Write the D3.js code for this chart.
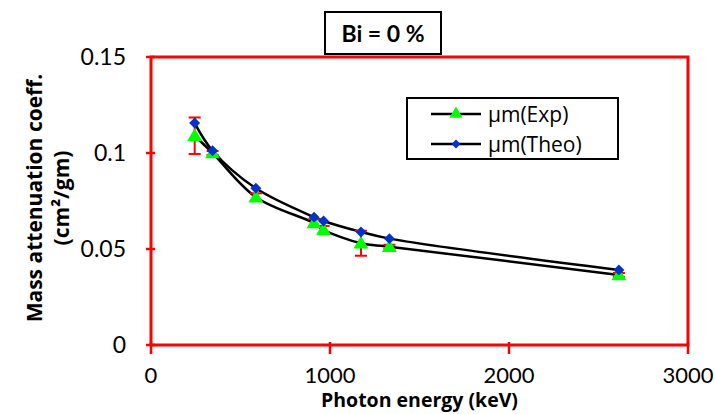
<!DOCTYPE html>
<html>
<head>
<meta charset="utf-8">
<script src="https://cdn.jsdelivr.net/npm/d3@7"></script>
<style>
  body { margin: 0; background: #fff; }
  svg text { font-family: Lato, "Open Sans", sans-serif; }
  svg text.title { font-family: "Open Sans", Lato, sans-serif; font-weight: bold; }
</style>
</head>
<body>
<svg id="chart"></svg>
<script>
// photon energies (keV)
var energies = [244, 344, 586, 911, 964, 1173, 1332, 2614];
var expValues = [0.109, 0.100, 0.077, 0.0635, 0.060, 0.053, 0.0512, 0.0365];
var expErrors = [0.0095, 0.001, 0.002, 0.002, 0.002, 0.0065, 0.001, 0.001];
var theoValues = [0.1156, 0.1012, 0.0816, 0.0666, 0.0646, 0.0589, 0.0554, 0.0391];
var xTicks = [0, 1000, 2000, 3000];
var yTicks = [0, 0.05, 0.1, 0.15];
var yTickLabels = ["0", "0.05", "0.1", "0.15"];
var seriesNames = ["\u00b5m(Exp)", "\u00b5m(Theo)"];

var screen = {width: 715, height: 414};
var margins = {top: 57, bottom: 69, left: 151, right: 27};

var svg = d3.select("#chart")
    .attr("width", screen.width)
    .attr("height", screen.height);

var xScale = d3.scaleLinear()
    .domain([0, 3000])
    .range([margins.left, screen.width - margins.right]);

var yScale = d3.scaleLinear()
    .domain([0, 0.15])
    .range([screen.height - margins.bottom, margins.top]);

var red = "#ff0000";

// plot frame
svg.append("rect")
    .attr("x", xScale(0))
    .attr("y", yScale(0.15))
    .attr("width", xScale(3000) - xScale(0))
    .attr("height", yScale(0) - yScale(0.15))
    .style("fill", "none")
    .style("stroke", red)
    .style("stroke-width", 3);

// y ticks
svg.selectAll(".ytick")
    .data(yTicks)
    .enter()
    .append("line")
    .attr("x1", xScale(0) - 5)
    .attr("x2", xScale(0) + 4)
    .attr("y1", function(d){ return yScale(d); })
    .attr("y2", function(d){ return yScale(d); })
    .style("stroke", red)
    .style("stroke-width", 2.5);

svg.selectAll(".ylabel")
    .data(yTicks)
    .enter()
    .append("text")
    .attr("x", xScale(0) - 25)
    .attr("y", function(d){ return yScale(d) + 8; })
    .attr("text-anchor", "end")
    .style("font-size", "23px")
    .style("fill", "#000")
    .text(function(d, i){ return yTickLabels[i]; });

// x ticks
svg.selectAll(".xtick")
    .data(xTicks)
    .enter()
    .append("line")
    .attr("x1", function(d){ return xScale(d); })
    .attr("x2", function(d){ return xScale(d); })
    .attr("y1", yScale(0) - 3)
    .attr("y2", yScale(0) + 9)
    .style("stroke", red)
    .style("stroke-width", 2.5);

svg.selectAll(".xlabel")
    .data(xTicks)
    .enter()
    .append("text")
    .attr("x", function(d){ return xScale(d); })
    .attr("y", 383)
    .attr("text-anchor", "middle")
    .style("font-size", "22px")
    .style("fill", "#000")
    .text(function(d){ return d; });

// axis titles
svg.append("text")
    .attr("class", "title")
    .attr("x", (xScale(0) + xScale(3000)) / 2)
    .attr("y", 407)
    .attr("text-anchor", "middle")
    .style("font-size", "19.5px")
    .text("Photon energy (keV)");

var yTitle = svg.append("text")
    .attr("class", "title")
    .attr("transform", "translate(42,198) rotate(-90)")
    .attr("text-anchor", "middle")
    .style("font-size", "21px");
yTitle.append("tspan").attr("x", 0).attr("y", 0).text("Mass attenuation coeff.");
yTitle.append("tspan").attr("x", 0).attr("y", 27).text("(cm\u00b2/gm)");

// title box
svg.append("rect")
    .attr("x", 325)
    .attr("y", 12)
    .attr("width", 116)
    .attr("height", 42)
    .style("fill", "#fff")
    .style("stroke", "#000")
    .style("stroke-width", 2);
svg.append("text")
    .attr("x", 383)
    .attr("y", 42)
    .attr("text-anchor", "middle")
    .style("font-size", "23px")
    .style("font-weight", "bold")
    .text("Bi = 0 %");

// lines
var expData = energies.map(function(e, i){ return {x: e, y: expValues[i], err: expErrors[i]}; });
var theoData = energies.map(function(e, i){ return {x: e, y: theoValues[i]}; });

var line = d3.line()
    .x(function(d){ return xScale(d.x); })
    .y(function(d){ return yScale(d.y); })
    .curve(d3.curveCatmullRom.alpha(0.5));

svg.append("path")
    .datum(expData)
    .attr("d", line)
    .style("fill", "none")
    .style("stroke", "#000")
    .style("stroke-width", 2.5);

svg.append("path")
    .datum(theoData)
    .attr("d", line)
    .style("fill", "none")
    .style("stroke", "#000")
    .style("stroke-width", 2.5);

// error bars
var errG = svg.selectAll(".err")
    .data(expData)
    .enter()
    .append("g");
errG.append("line")
    .attr("x1", function(d){ return xScale(d.x); })
    .attr("x2", function(d){ return xScale(d.x); })
    .attr("y1", function(d){ return yScale(d.y - d.err); })
    .attr("y2", function(d){ return yScale(d.y + d.err); })
    .style("stroke", red)
    .style("stroke-width", 2);
errG.append("line")
    .attr("x1", function(d){ return xScale(d.x) - 6; })
    .attr("x2", function(d){ return xScale(d.x) + 6; })
    .attr("y1", function(d){ return yScale(d.y - d.err); })
    .attr("y2", function(d){ return yScale(d.y - d.err); })
    .style("stroke", red)
    .style("stroke-width", 2);
errG.append("line")
    .attr("x1", function(d){ return xScale(d.x) - 6; })
    .attr("x2", function(d){ return xScale(d.x) + 6; })
    .attr("y1", function(d){ return yScale(d.y + d.err); })
    .attr("y2", function(d){ return yScale(d.y + d.err); })
    .style("stroke", red)
    .style("stroke-width", 2);

// markers
var triangle = d3.symbol().type(d3.symbolTriangle).size(95);
var diamond = d3.symbol().type(d3.symbolSquare).size(60);

svg.selectAll(".exp")
    .data(expData)
    .enter()
    .append("path")
    .attr("d", triangle)
    .attr("transform", function(d){ return "translate(" + xScale(d.x) + "," + (yScale(d.y) + 1) + ")"; })
    .style("fill", "#00ff00");

svg.selectAll(".theo")
    .data(theoData)
    .enter()
    .append("path")
    .attr("d", diamond)
    .attr("transform", function(d){ return "translate(" + xScale(d.x) + "," + yScale(d.y) + ") rotate(45)"; })
    .style("fill", "#0033cc");

// legend
svg.append("rect")
    .attr("x", 407)
    .attr("y", 98)
    .attr("width", 211)
    .attr("height", 61)
    .style("fill", "#fff")
    .style("stroke", "#000")
    .style("stroke-width", 2);

var legendY = [114, 144];
var legend = svg.selectAll(".legend")
    .data(seriesNames)
    .enter()
    .append("g")
    .attr("transform", function(d, i){ return "translate(0," + legendY[i] + ")"; });
legend.append("line")
    .attr("x1", 431)
    .attr("x2", 481)
    .style("stroke", "#000")
    .style("stroke-width", 2.5);
legend.append("path")
    .attr("d", function(d, i){ return i == 0 ? d3.symbol().type(d3.symbolTriangle).size(75)() : d3.symbol().type(d3.symbolSquare).size(40)(); })
    .attr("transform", function(d, i){ return "translate(456,0)" + (i == 1 ? " rotate(45)" : ""); })
    .style("fill", function(d, i){ return i == 0 ? "#00ff00" : "#0033cc"; });
legend.append("text")
    .attr("x", 488)
    .attr("y", 8)
    .style("font-family", "'Open Sans', sans-serif")
    .style("font-size", "21px")
    .text(function(d){ return d; });
</script>
</body>
</html>
